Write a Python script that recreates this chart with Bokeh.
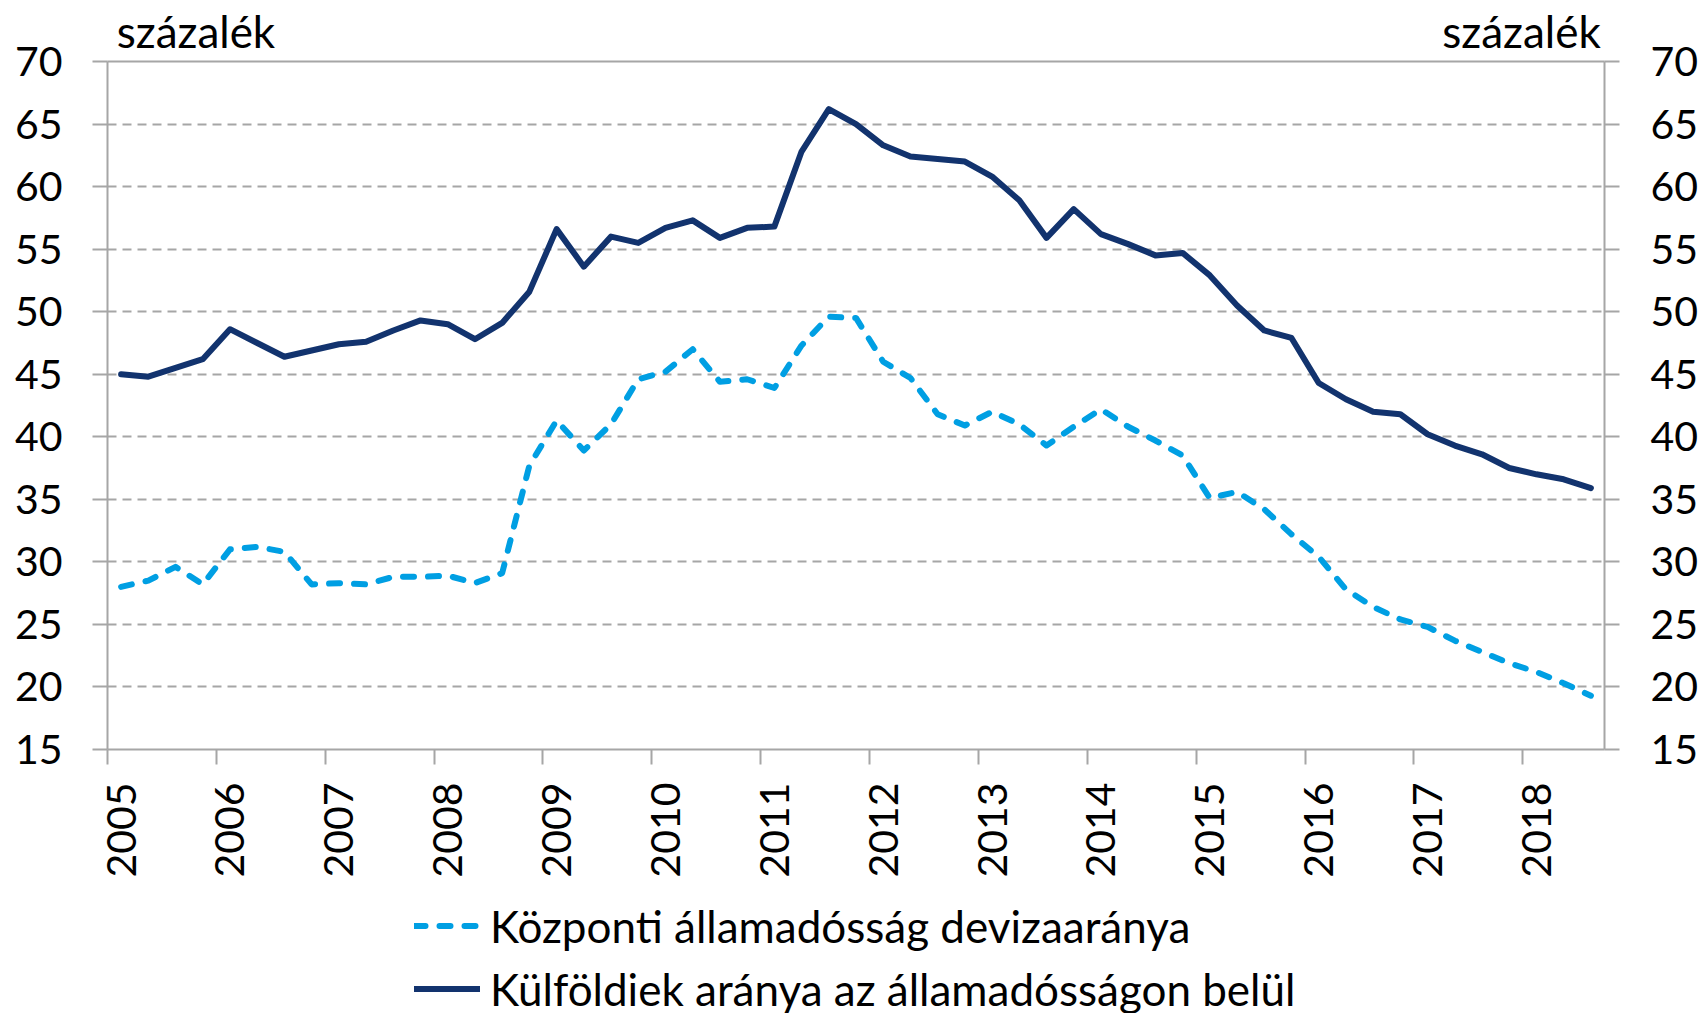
import math
from bokeh.plotting import figure
from bokeh.layouts import column
from bokeh.models import (Range1d, LinearAxis, FixedTicker, Legend, LegendItem)
from bokeh.embed import file_html
from bokeh.resources import INLINE

# ---- data (quarterly, 2005Q1 .. 2018Q3) ----
years = list(range(2005, 2019))
quarters = [f"{y}Q{q}" for y in years for q in (1, 2, 3, 4)][:55]

kulfoldi = [45.0, 44.8, 45.5, 46.2, 48.6, 47.5, 46.4, 46.9, 47.4, 47.6,
            48.5, 49.3, 49.0, 47.8, 49.1, 51.6, 56.6, 53.6, 56.0, 55.5,
            56.7, 57.3, 55.9, 56.7, 56.8, 62.8, 66.2, 65.0, 63.3, 62.4,
            62.2, 62.0, 60.8, 58.9, 55.9, 58.2, 56.2, 55.4, 54.5, 54.7,
            52.9, 50.5, 48.5, 47.9, 44.3, 43.0, 42.0, 41.8, 40.2, 39.3,
            38.6, 37.5, 37.0, 36.6, 35.9]

deviza = [28.0, 28.5, 29.6, 28.2, 31.0, 31.2, 30.8, 28.2, 28.3, 28.2,
          28.8, 28.8, 28.9, 28.3, 29.1, 37.7, 41.3, 38.9, 41.0, 44.6,
          45.2, 47.0, 44.4, 44.6, 43.9, 47.3, 49.6, 49.5, 46.0, 44.7,
          41.8, 40.9, 42.0, 41.0, 39.3, 40.8, 42.2, 40.8, 39.7, 38.5,
          35.1, 35.6, 34.2, 32.2, 30.4, 27.8, 26.4, 25.4, 24.8, 23.7,
          22.8, 21.9, 21.2, 20.3, 19.3]

y_ticks = [15, 20, 25, 30, 35, 40, 45, 50, 55, 60, 65, 70]
series_names = ["Központi államadósság devizaaránya",
                "Külföldiek aránya az államadósságon belül"]
unit_label = "százalék"

# ---- styling ----
FONT = "Lato"
NAVY = "#12336E"
LIGHT = "#009FE3"
GRID = "#A6A6A6"
DEV_STYLE = dict(line_color=LIGHT, line_width=6, line_dash="11 14",
                 line_cap="round", line_join="round")
KUL_STYLE = dict(line_color=NAVY, line_width=6, line_cap="round",
                 line_join="round")

n = len(quarters)
x = [i + 0.5 for i in range(n)]

p = figure(frame_width=1497, frame_height=688, output_backend="svg",
           toolbar_location=None,
           x_range=Range1d(0, n), y_range=Range1d(15, 70),
           min_border_left=107, min_border_right=98, min_border_top=61,
           min_border_bottom=129, x_axis_location=None, y_axis_location=None)
p.outline_line_color = None
p.background_fill_color = "white"
p.border_fill_color = "white"

# grid
p.xgrid.visible = False
p.ygrid.ticker = FixedTicker(ticks=y_ticks)
p.ygrid.grid_line_color = GRID
p.ygrid.grid_line_width = 2
p.ygrid.grid_line_dash = "9 6"


def style_y(ax, standoff):
    ax.ticker = FixedTicker(ticks=y_ticks)
    ax.axis_line_color = GRID
    ax.axis_line_width = 2
    ax.major_tick_line_color = GRID
    ax.major_tick_line_width = 2
    ax.major_tick_out = 15
    ax.major_tick_in = 0
    ax.minor_tick_line_color = None
    ax.major_label_text_font = FONT
    ax.major_label_text_font_size = "41px"
    ax.major_label_text_color = "black"
    ax.major_label_standoff = standoff


yl = LinearAxis()
style_y(yl, 30)
p.add_layout(yl, "left")
yr = LinearAxis()
style_y(yr, 31)
p.add_layout(yr, "right")

# top solid border line carrying the unit captions
unit_pos = [3.25, n - 3.05]
top = LinearAxis(ticker=FixedTicker(ticks=unit_pos))
top.major_label_overrides = {pos: unit_label for pos in unit_pos}
top.axis_line_color = GRID
top.axis_line_width = 2
top.major_label_text_font = FONT
top.major_label_text_font_size = "44px"
top.major_label_text_color = "black"
top.major_label_standoff = 5
top.major_tick_line_color = None
top.major_tick_out = 0
top.major_tick_in = 0
top.minor_tick_line_color = None
p.add_layout(top, "above")

# x axis: labels centred on first quarter of each year, tick marks between years
label_pos = [4 * k + 0.5 for k in range(len(years))]
tick_pos = [4 * k for k in range(len(years))]
xa = LinearAxis(ticker=FixedTicker(ticks=label_pos, minor_ticks=tick_pos))
xa.major_label_overrides = {pos: str(yr_) for pos, yr_ in zip(label_pos, years)}
xa.major_label_orientation = math.pi / 2
xa.axis_line_color = GRID
xa.axis_line_width = 2
xa.major_tick_line_color = None
xa.minor_tick_line_color = GRID
xa.minor_tick_line_width = 2
xa.minor_tick_out = 15
xa.minor_tick_in = 0
xa.major_label_text_font = FONT
xa.major_label_text_font_size = "41px"
xa.major_label_text_color = "black"
xa.major_label_standoff = 18
p.add_layout(xa, "below")

# lines
p.line(x, deviza, **DEV_STYLE)
p.line(x, kulfoldi, **KUL_STYLE)

# ---- legend strip below the chart ----
# the same series are drawn here only as legend proxies (outside the visible range)
leg = figure(width=1702, height=135, output_backend="svg", toolbar_location=None,
             x_range=Range1d(0, n), y_range=Range1d(-2, -1),
             min_border_left=0, min_border_right=0, min_border_top=0,
             min_border_bottom=0, x_axis_location=None, y_axis_location=None)
leg.outline_line_color = None
leg.xgrid.visible = False
leg.ygrid.visible = False
leg.border_fill_color = "white"
r_dev = leg.line(x, deviza, **DEV_STYLE)
r_kul = leg.line(x, kulfoldi, **KUL_STYLE)

legend = Legend(items=[LegendItem(label=series_names[0], renderers=[r_dev]),
                       LegendItem(label=series_names[1], renderers=[r_kul])],
                location=(307, 0), orientation="vertical")
legend.label_text_font = FONT
legend.label_text_font_size = "44px"
legend.label_text_color = "black"
legend.glyph_width = 66
legend.glyph_height = 53
legend.label_height = 53
legend.label_standoff = 10
legend.spacing = 10
legend.padding = 0
legend.margin = 0
legend.border_line_color = None
legend.background_fill_alpha = 0
leg.add_layout(legend, "center")

layout = column(p, leg, spacing=0)
open("out.html", "w").write(file_html(layout, INLINE))
